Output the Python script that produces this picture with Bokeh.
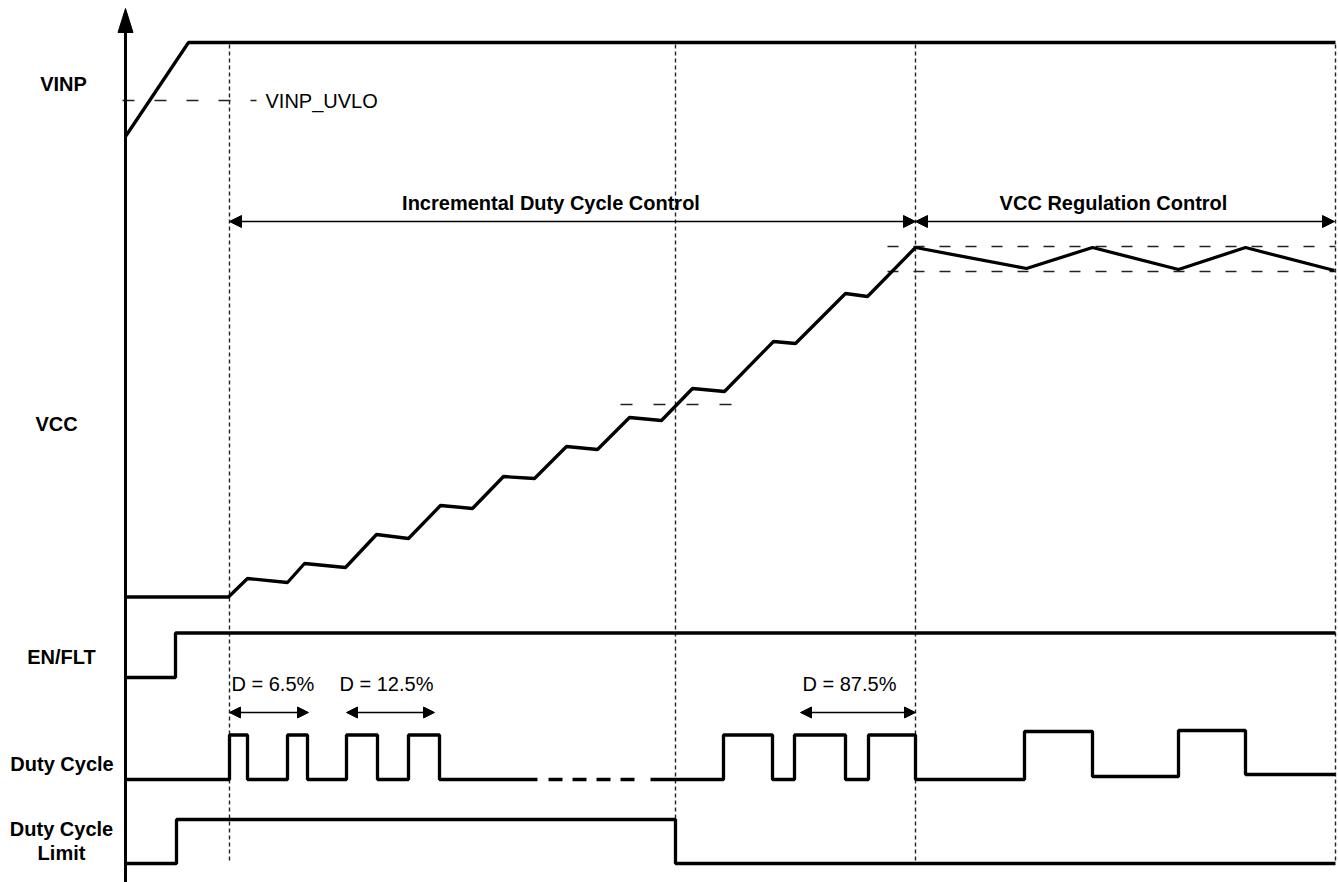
from bokeh.plotting import figure
from bokeh.models import Range1d, Arrow, NormalHead
from bokeh.core.properties import value
from bokeh.embed import file_html
from bokeh.resources import INLINE

# ---------------- data (time units t, level units v) ----------------
vinp_t = [0, 63, 1210]
vinp_v = [738, 832, 832]
uvlo_t = [-3, 131]
uvlo_v = [774, 774]

vcc_t = [0, 103, 122, 162, 179, 220, 251, 283, 315, 347, 378, 409, 441, 472,
         504, 536, 567, 599, 648, 670, 720, 742, 790, 901, 967, 1053, 1120, 1209]
vcc_v = [277.5, 277.5, 296, 292, 311, 307, 340, 336, 369, 366, 398, 396, 428, 425,
         457, 454, 486, 483, 533, 531, 581, 578, 627, 606, 627, 605, 627, 604]
vcc_reg_t = [762, 1210]
vcc_reg_hi = 628
vcc_reg_lo = 603
vcc_mid_t = [495, 607]
vcc_mid_v = 470

en_t = [0, 50, 50, 1210]
en_v = [197, 197, 241.5, 241.5]

duty_a_t = [0, 104, 104, 122, 122, 162, 162, 182, 182, 221, 221, 252, 252, 283, 283, 314, 314, 412]
duty_a_v = [95, 95, 139.5, 139.5, 95, 95, 139.5, 139.5, 95, 95, 139.5, 139.5, 95, 95, 139.5, 139.5, 95, 95]
duty_gap_t = [423, 512]
duty_gap_v = [95, 95]
duty_b_t = [525, 598, 598, 647, 647, 669, 669, 720, 720, 743, 743, 790, 790,
            899, 899, 967, 967, 1053, 1053, 1120, 1120, 1210]
duty_b_v = [95, 95, 139.5, 139.5, 95, 95, 139.5, 139.5, 95, 95, 139.5, 139.5, 95,
            95, 143, 143, 98, 98, 144, 144, 100, 100]

limit_t = [0, 51, 51, 550, 550, 1210]
limit_v = [11, 11, 55, 55, 11, 11]

marker_t = [104, 550, 790, 1210]
marker_top = 832
marker_bot = 14

phase_labels = ["Incremental Duty Cycle Control", "VCC Regulation Control"]
phase_start = [104, 790]
phase_end = [790, 1209]
phase_label_t = [425.5, 988]
phase_y = 653
phase_label_y = 672

d_labels = ["D = 6.5%", "D = 12.5%", "D = 87.5%"]
d_start = [104, 221, 675]
d_end = [183, 309, 790]
d_label_t = [106, 214, 677]
d_y = 162
d_label_y = 191

sig_labels = ["VINP", "VCC", "EN/FLT", "Duty Cycle", "Duty Cycle", "Limit"]
sig_t = [-62, -69, -64, -63.5, -64, -64]
sig_y = [791, 451, 218, 111, 46, 22]

uvlo_label = "VINP_UVLO"
uvlo_label_t = 140

# ---------------- figure ----------------
W, H = 1338, 882
p = figure(width=W, height=H, x_range=Range1d(-125, 1213), y_range=Range1d(-8, 874),
           output_backend="svg", toolbar_location=None,
           x_axis_type=None, y_axis_type=None, min_border=0)
p.grid.visible = False
p.outline_line_color = None
p.background_fill_color = "white"
p.border_fill_color = "white"

FONT = value("Liberation Sans")
BLK = "black"

# vertical phase markers
for t in marker_t:
    p.line([t, t], [marker_bot, marker_top], line_color="#222222", line_width=1.4, line_dash="4 3")

# reference dashed lines
p.line(uvlo_t, uvlo_v, line_color="#222222", line_width=1.3, line_dash="12 20")
p.line(vcc_reg_t, [vcc_reg_hi, vcc_reg_hi], line_color="#222222", line_width=1.3, line_dash="11 15")
p.line(vcc_reg_t, [vcc_reg_lo, vcc_reg_lo], line_color="#222222", line_width=1.3, line_dash="11 15")
p.line(vcc_mid_t, [vcc_mid_v, vcc_mid_v], line_color="#222222", line_width=1.3, line_dash="12 21")

# waveforms
LW = 3.3
p.line(vinp_t, vinp_v, line_color=BLK, line_width=LW)
p.line(vcc_t, vcc_v, line_color=BLK, line_width=LW)
p.line(en_t, en_v, line_color=BLK, line_width=LW)
p.line(duty_a_t, duty_a_v, line_color=BLK, line_width=LW)
p.line(duty_gap_t, duty_gap_v, line_color=BLK, line_width=LW, line_dash="14 10")
p.line(duty_b_t, duty_b_v, line_color=BLK, line_width=LW)
p.line(limit_t, limit_v, line_color=BLK, line_width=LW)

# vertical time axis with arrow head
p.line([0, 0], [-8, 866 - 20], line_color=BLK, line_width=3)
head_len, head_w = 24, 15
p.patch([-head_w / 2, head_w / 2, 0], [866 - head_len, 866 - head_len, 866], color=BLK)

# dimension arrows
def dim_arrow(x0, x1, y, size=11):
    p.add_layout(Arrow(start=NormalHead(size=size, fill_color=BLK, line_color=BLK, line_width=1),
                       end=NormalHead(size=size, fill_color=BLK, line_color=BLK, line_width=1),
                       x_start=x0, x_end=x1, y_start=y, y_end=y,
                       line_color=BLK, line_width=1.5))

for a, b in zip(phase_start, phase_end):
    dim_arrow(a, b, phase_y, 12)
for a, b in zip(d_start, d_end):
    dim_arrow(a, b, d_y, 11)

# texts
p.text(x=phase_label_t, y=[phase_label_y] * 2, text=phase_labels, text_font=FONT,
       text_font_size="20px", text_font_style="bold", text_align="center",
       text_baseline="middle", text_color=BLK)
p.text(x=d_label_t, y=[d_label_y] * 3, text=d_labels, text_font=FONT,
       text_font_size="20px", text_align="left", text_baseline="middle", text_color=BLK)
p.text(x=sig_t, y=sig_y, text=sig_labels, text_font=FONT, text_font_size="20px",
       text_font_style="bold", text_align="center", text_baseline="middle", text_color=BLK)
p.text(x=[uvlo_label_t], y=[uvlo_v[0]], text=[uvlo_label], text_font=FONT,
       text_font_size="20px", text_align="left", text_baseline="middle", text_color=BLK)

open("out.html", "w").write(file_html(p, INLINE))
